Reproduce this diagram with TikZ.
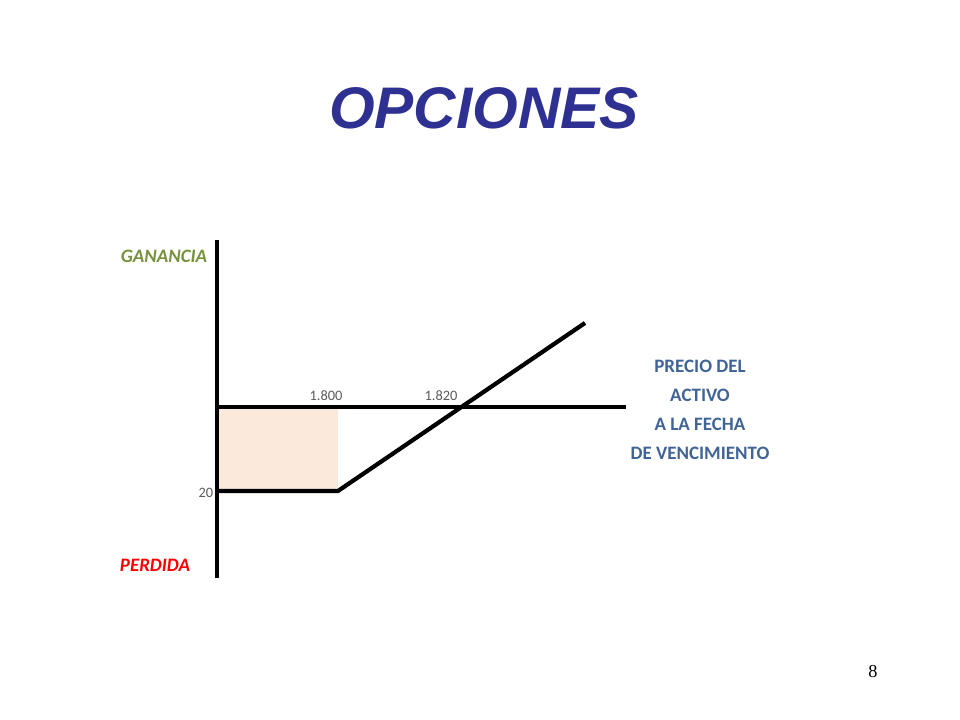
\documentclass[tikz,border=0pt]{standalone}
\usepackage{fontspec}
\setmainfont{Carlito}
\newfontfamily\titlefont{Liberation Sans}
\newfontfamily\pagefont{Liberation Serif}
\usepackage{tikz}

\definecolor{titleblue}{RGB}{46,49,146}
\definecolor{gaingreen}{RGB}{118,146,60}
\definecolor{lossred}{RGB}{255,0,0}
\definecolor{assetblue}{RGB}{64,100,150}
\definecolor{tickgray}{RGB}{90,90,90}
\definecolor{premium}{RGB}{251,233,220}

\begin{document}
\begin{tikzpicture}[x=1cm,y=1cm,
  axis/.style={line width=1.2pt},
  payoff/.style={line width=1.2pt, line join=round},
  lbl/.style={font=\fontsize{5.4}{8.3}\selectfont\bfseries, inner sep=0pt},
  tick/.style={font=\fontsize{4.1}{5}\selectfont, text=tickgray, inner sep=0pt}]
\useasboundingbox (0,0) rectangle (9.6,7.2);
% title
\node [font=\titlefont\fontsize{16.7}{20}\selectfont\bfseries\itshape, text=titleblue] (title) at (4.84,6.12) {OPCIONES};
% axes
\coordinate (o) at (2.17,3.13);
\coordinate (top) at (2.17,4.80);
\coordinate (bottom) at (2.17,1.42);
\coordinate (xend) at (6.26,3.13);
\coordinate (low) at (2.17,2.29);
\coordinate (knee) at (3.38,2.29);
\coordinate (tip) at (5.85,3.97);
\fill [premium] (2.19,2.29) rectangle (3.38,3.11);
\draw [axis] (top) -- (bottom);
\draw [axis] (o) -- (xend);
\draw [payoff] (low) -- (knee) -- (tip);
% labels
\node [tick] (strike) at (3.26,3.24) {1.800};
\node [tick] (breakeven) at (4.41,3.24) {1.820};
\node [tick, anchor=east] (prima) at (2.14,2.27) {20};
\node [lbl, text=gaingreen, font=\fontsize{5.4}{8.3}\selectfont\bfseries\itshape] (gain) at (1.64,4.64) {GANANCIA};
\node [lbl, text=lossred, font=\fontsize{5.4}{8.3}\selectfont\bfseries\itshape] (loss) at (1.55,1.55) {PERDIDA};
\node [lbl, text=assetblue, align=center] (asset) at (7.00,3.10) {PRECIO DEL\\ACTIVO\\A LA FECHA\\DE VENCIMIENTO};
\node [font=\pagefont\fontsize{5.2}{6}\selectfont] (page) at (8.73,0.48) {8};
\end{tikzpicture}
\end{document}
